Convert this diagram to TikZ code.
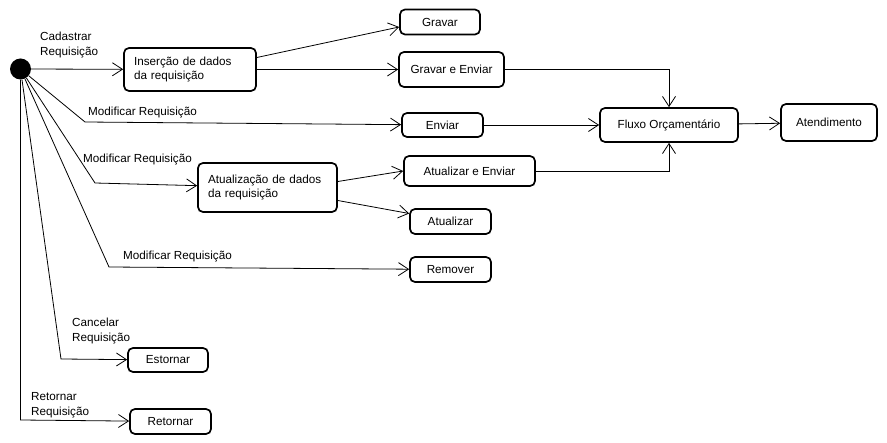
\documentclass[tikz,border=0pt]{standalone}
\usepackage{fontspec}
\setmainfont{Liberation Sans}
\usetikzlibrary{arrows.meta,positioning}

\begin{document}
\begin{tikzpicture}[
  x=1pt,y=-1pt,
  estado/.style={draw,line width=1.7pt,rounded corners=5pt,align=center,inner sep=0pt},
  seta/.style={-{Straight Barb[length=10pt,width=13pt]},line width=0.8pt},
  rotulo/.style={anchor=west,align=left,inner sep=0pt},
  font=\fontsize{11.7}{14.5}\selectfont
]
\useasboundingbox (0,0) rectangle (887,443);
\node[circle,fill=black,minimum size=21pt,inner sep=0pt] (ini) at (20.5,69) {};
\node[estado,minimum width=132pt,minimum height=43pt,text width=112pt,align=left] (insercao) at (190,69.5) {Inserção de dados\\da requisição};
\node[estado,minimum width=80pt,minimum height=25pt] (gravar) at (440,22) {Gravar};
\node[estado,minimum width=105pt,minimum height=35pt] (gravenv) at (451.5,69.5) {Gravar e Enviar};
\node[estado,minimum width=81pt,minimum height=24pt] (enviar) at (442.5,125) {Enviar};
\node[estado,minimum width=138pt,minimum height=34pt] (fluxo) at (669,125) {Fluxo Orçamentário};
\node[estado,minimum width=96pt,minimum height=37pt] (atend) at (829,122.5) {Atendimento};
\node[estado,minimum width=139pt,minimum height=49pt,text width=119pt,align=left] (atualiz) at (267.5,187.5) {Atualização de dados\\da requisição};
\node[estado,minimum width=131pt,minimum height=30pt] (atualenv) at (469.5,171) {Atualizar e Enviar};
\node[estado,minimum width=81pt,minimum height=25pt] (atual) at (450.5,221.5) {Atualizar};
\node[estado,minimum width=81pt,minimum height=25pt] (remover) at (450.5,269.5) {Remover};
\node[estado,minimum width=80pt,minimum height=24pt] (estornar) at (168,360) {Estornar};
\node[estado,minimum width=81pt,minimum height=25pt] (retornar) at (170.5,421.5) {Retornar};
% pontos de dobra
\coordinate (m1) at (85,122);
\coordinate (m2) at (95,183);
\coordinate (m3) at (109,267);
\coordinate (m4) at (61,359);
\coordinate (m5) at (20.5,420);
% rotulos
\node[rotulo] (l1) at (40,45) {Cadastrar\\Requisição};
\node[rotulo] (l2) at (88,113) {Modificar Requisição};
\node[rotulo] (l3) at (83,160) {Modificar Requisição};
\node[rotulo] (l4) at (123,257) {Modificar Requisição};
\node[rotulo] (l5) at (72,331) {Cancelar\\Requisição};
\node[rotulo] (l6) at (31,405) {Retornar\\Requisição};
% transicoes
\draw[seta] (ini)--(insercao);
\draw[seta] (ini)--(m1)--(enviar);
\draw[seta] (ini)--(m2)--(atualiz);
\draw[seta] (ini)--(m3)--(remover);
\draw[seta] (ini)--(m4)--(estornar);
\draw[seta] (ini)--(m5)--(retornar);
\draw[seta] ([yshift=12pt]insercao.east)--([yshift=-5pt]gravar.west);
\draw[seta] (insercao)--(gravenv);
\draw[seta] (gravenv)-|(fluxo);
\draw[seta] (enviar)--(fluxo);
\draw[seta] (atualenv)-|(fluxo);
\draw[seta] (fluxo)--(atend);
\draw[seta] ([yshift=6pt]atualiz.east)--(atualenv.west);
\draw[seta] ([yshift=-13pt]atualiz.east)--([yshift=8pt]atual.west);
\end{tikzpicture}
\end{document}
